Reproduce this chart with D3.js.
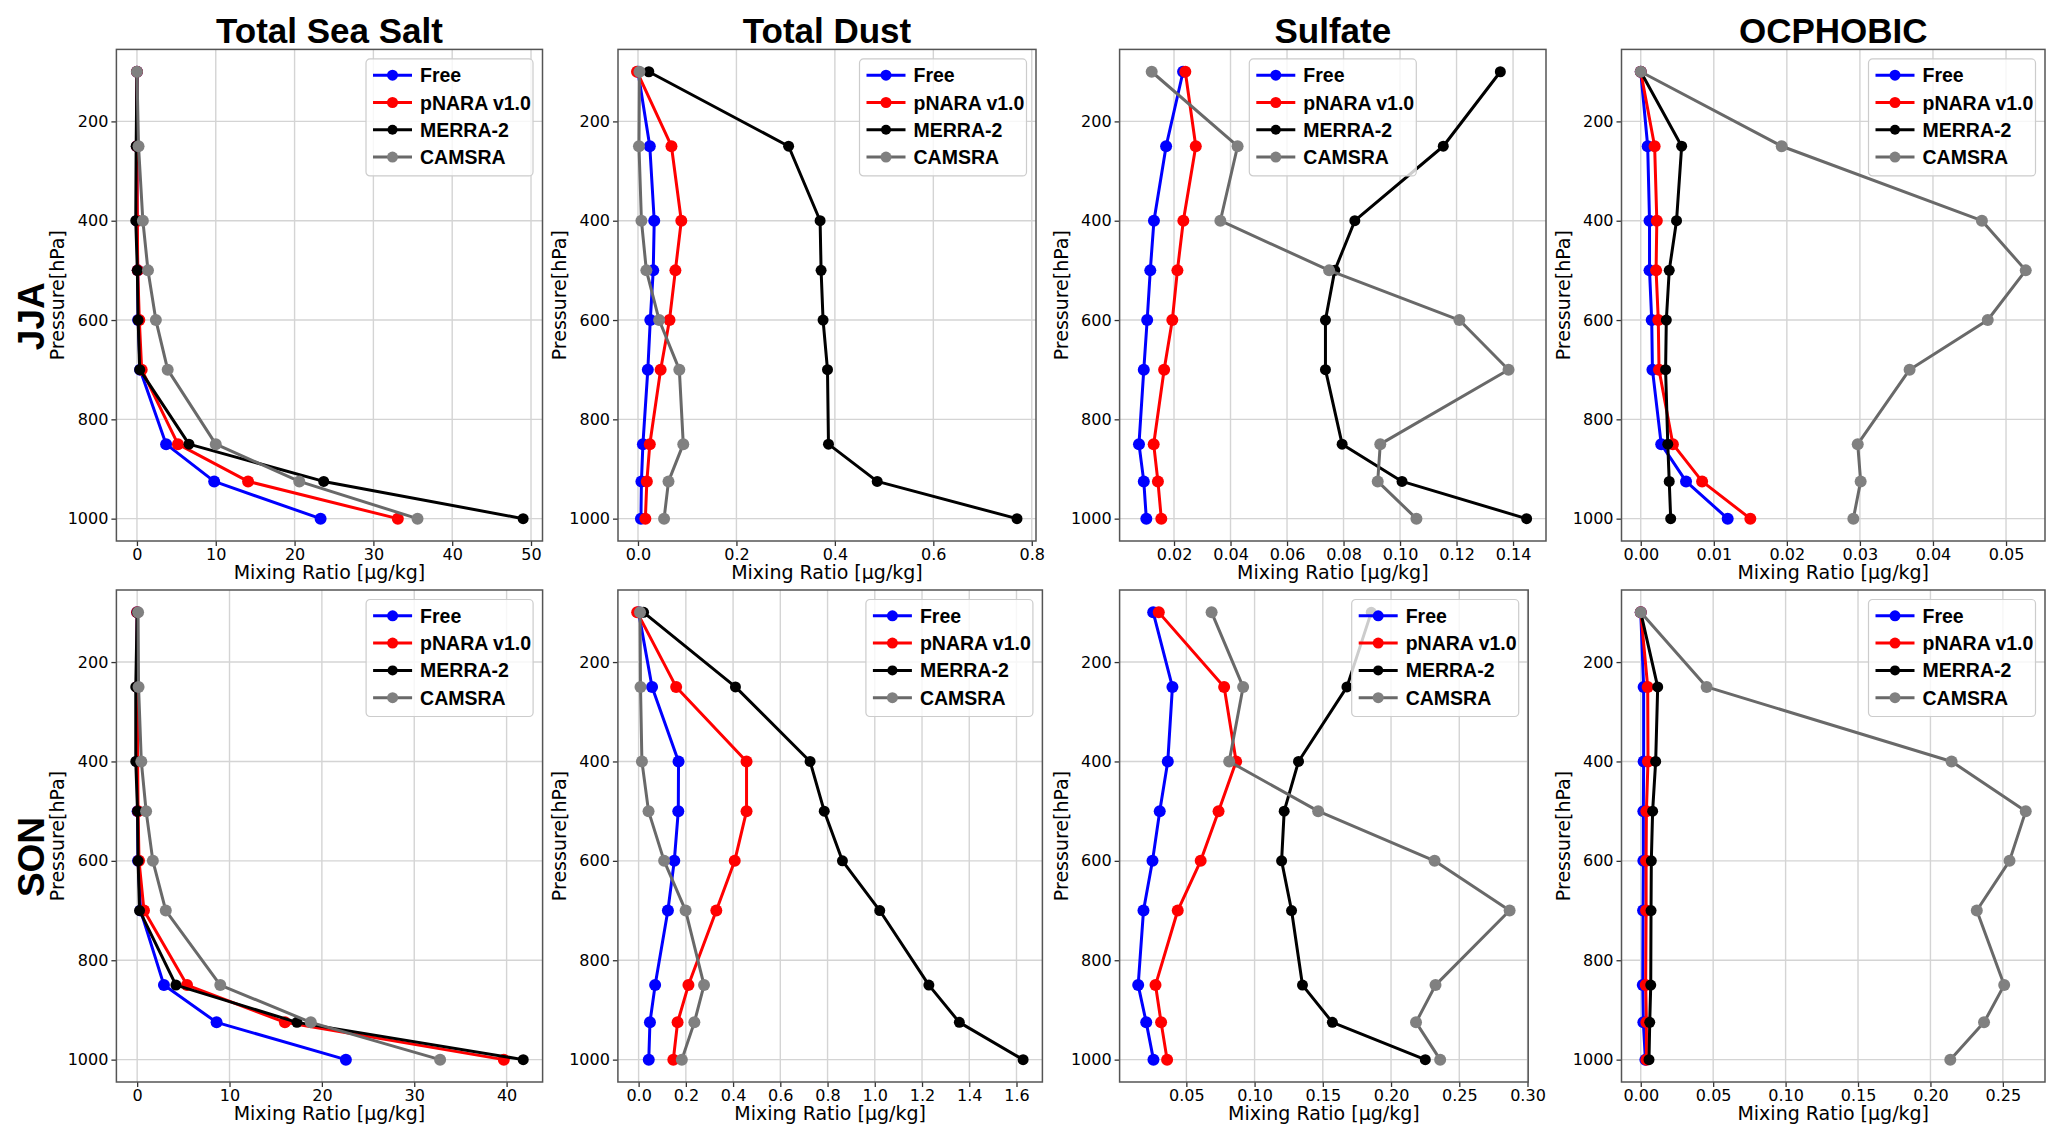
<!DOCTYPE html>
<html>
<head>
<meta charset="utf-8">
<script src="https://cdn.jsdelivr.net/npm/d3@7"></script>
<style>
  body { margin: 0; background: #fff; }
  .tick text { font-family: "DejaVu Sans", sans-serif; fill: #000; }
</style>
</head>
<body>
<div id="graf"></div>
<script>
// Niveles de presion (hPa)
const pressure = [100, 250, 400, 500, 600, 700, 850, 925, 1000]
const seriesNames = ["Free", "pNARA v1.0", "MERRA-2", "CAMSRA"]
const species = ["Total Sea Salt", "Total Dust", "Sulfate", "OCPHOBIC"]
const seasons = ["JJA", "SON"]
const yTicks = [200, 400, 600, 800, 1000]

// JJA  (orden: Free, pNARA v1.0, MERRA-2, CAMSRA)
const seaSaltJJA = [
  [0, 0, 0, 0.1, 0.15, 0.4, 3.7, 9.8, 23.3],
  [0, 0, 0.05, 0.1, 0.3, 0.6, 5.2, 14.1, 33.1],
  [0, -0.1, -0.15, 0.05, 0.15, 0.35, 6.6, 23.7, 49.0],
  [0, 0.2, 0.75, 1.4, 2.4, 3.9, 10.0, 20.6, 35.6],
]
const dustJJA = [
  [0.0, 0.024, 0.033, 0.031, 0.025, 0.02, 0.01, 0.007, 0.006],
  [-0.002, 0.068, 0.088, 0.076, 0.064, 0.046, 0.024, 0.018, 0.015],
  [0.022, 0.306, 0.37, 0.372, 0.376, 0.385, 0.387, 0.486, 0.77],
  [0.003, 0.002, 0.007, 0.017, 0.043, 0.084, 0.092, 0.062, 0.053],
]
const sulfateJJA = [
  [0.0232, 0.0172, 0.0129, 0.0116, 0.0105, 0.0093, 0.0076, 0.0093, 0.0102],
  [0.024, 0.0277, 0.0233, 0.0212, 0.0194, 0.0165, 0.0128, 0.0143, 0.0155],
  [0.1355, 0.1153, 0.084, 0.0769, 0.0736, 0.0736, 0.0795, 0.1007, 0.1448],
  [0.0121, 0.0425, 0.0364, 0.0749, 0.121, 0.1384, 0.093, 0.0921, 0.1058],
]
const ocphobicJJA = [
  [0, 0.00095, 0.0012, 0.0012, 0.0015, 0.0016, 0.0028, 0.0062, 0.0119],
  [0, 0.0019, 0.0022, 0.0021, 0.0024, 0.0025, 0.0044, 0.0084, 0.015],
  [0, 0.0056, 0.0049, 0.0039, 0.0035, 0.0034, 0.0037, 0.0039, 0.0041],
  [0, 0.0193, 0.0467, 0.0527, 0.0475, 0.0368, 0.0297, 0.0301, 0.0291],
]

// SON
const seaSaltSON = [
  [0, 0, 0, 0.05, 0.1, 0.37, 2.9, 8.6, 22.6],
  [0, 0, 0.05, 0.1, 0.2, 0.74, 5.4, 16.0, 39.7],
  [0, -0.15, -0.15, 0.04, 0.1, 0.26, 4.2, 17.3, 41.8],
  [0.1, 0.15, 0.45, 0.97, 1.7, 3.1, 9.0, 18.8, 32.8],
]
const dustSON = [
  [0.0, 0.057, 0.169, 0.168, 0.151, 0.124, 0.07, 0.048, 0.043],
  [-0.006, 0.159, 0.457, 0.457, 0.407, 0.329, 0.211, 0.165, 0.147],
  [0.021, 0.41, 0.726, 0.786, 0.863, 1.021, 1.229, 1.358, 1.628],
  [0.006, 0.008, 0.014, 0.042, 0.108, 0.199, 0.277, 0.236, 0.183],
]
const sulfateSON = [
  [0.0257, 0.0398, 0.0364, 0.0305, 0.0252, 0.0186, 0.0147, 0.0206, 0.0259],
  [0.0298, 0.0777, 0.0865, 0.0736, 0.0605, 0.0437, 0.0274, 0.0315, 0.0359],
  [0.1855, 0.1677, 0.1322, 0.1217, 0.1198, 0.1271, 0.1351, 0.157, 0.2251],
  [0.0685, 0.0916, 0.0814, 0.1466, 0.2319, 0.2869, 0.2326, 0.2183, 0.236],
]
const ocphobicSON = [
  [0, 0.002, 0.002, 0.0018, 0.0018, 0.0016, 0.0014, 0.0018, 0.0032],
  [0, 0.0048, 0.005, 0.0039, 0.0037, 0.0037, 0.0034, 0.0039, 0.0039],
  [0, 0.0117, 0.0103, 0.0082, 0.0073, 0.0071, 0.0069, 0.0062, 0.0057],
  [0, 0.0455, 0.2146, 0.2658, 0.2546, 0.232, 0.2509, 0.237, 0.2137],
]

// Ticks del eje x
const seaSaltJJATicks = [0, 10, 20, 30, 40, 50]
const dustJJATicks = [0, 0.2, 0.4, 0.6, 0.8]
const sulfateJJATicks = [0.02, 0.04, 0.06, 0.08, 0.1, 0.12, 0.14]
const ocphobicJJATicks = [0, 0.01, 0.02, 0.03, 0.04, 0.05]
const seaSaltSONTicks = [0, 10, 20, 30, 40]
const dustSONTicks = [0, 0.2, 0.4, 0.6, 0.8, 1.0, 1.2, 1.4, 1.6]
const sulfateSONTicks = [0.05, 0.1, 0.15, 0.2, 0.25, 0.3]
const ocphobicSONTicks = [0, 0.05, 0.1, 0.15, 0.2, 0.25]

const draw = () => {
  const graf = d3.select("#graf")
  const anchoTotal = 2067
  const altoTotal = 1142

  const lineColors = ["#0000ff", "#ff0000", "#000000", "#696969"]
  const markerColors = ["#0000ff", "#ff0000", "#000000", "#808080"]
  const markerR = [6, 6, 5.5, 6]

  // Paneles: fila, columna, datos, ticks, formato, marco, leyenda
  const rows = [
    { top: 49.4, bottom: 541, cols: [[116.4, 542.5], [618, 1036], [1119.6, 1546], [1621.5, 2045]] },
    { top: 590, bottom: 1082, cols: [[116.4, 542.6], [617.9, 1042.4], [1119.6, 1528.2], [1621.5, 2045]] },
  ]
  const panels = [
    { row: 0, col: 0, data: seaSaltJJA, ticks: seaSaltJJATicks, fmt: "d", legend: "right" },
    { row: 0, col: 1, data: dustJJA, ticks: dustJJATicks, fmt: ".1f", legend: "right" },
    { row: 0, col: 2, data: sulfateJJA, ticks: sulfateJJATicks, fmt: ".2f", legend: "center" },
    { row: 0, col: 3, data: ocphobicJJA, ticks: ocphobicJJATicks, fmt: ".2f", legend: "right" },
    { row: 1, col: 0, data: seaSaltSON, ticks: seaSaltSONTicks, fmt: "d", legend: "right" },
    { row: 1, col: 1, data: dustSON, ticks: dustSONTicks, fmt: ".1f", legend: "right" },
    { row: 1, col: 2, data: sulfateSON, ticks: sulfateSONTicks, fmt: ".2f", legend: "right" },
    { row: 1, col: 3, data: ocphobicSON, ticks: ocphobicSONTicks, fmt: ".2f", legend: "right" },
  ]

  const svg = graf
    .append("svg")
    .attr("width", anchoTotal)
    .attr("height", altoTotal)
    .style("display", "block")
    .style("background", "#fff")

  const pad = (lo, hi) => {
    const m = (hi - lo) * 0.05
    return [lo - m, hi + m]
  }

  panels.forEach((p) => {
    const r = rows[p.row]
    const [x0, x1] = r.cols[p.col]
    const ancho = x1 - x0
    const alto = r.bottom - r.top

    const all = p.data.flat()
    const x = d3
      .scaleLinear()
      .domain(pad(d3.min(all), d3.max(all)))
      .range([0, ancho])
    const y = d3
      .scaleLinear()
      .domain(pad(d3.min(pressure), d3.max(pressure)))
      .range([0, alto])

    const chart = svg.append("g").attr("transform", `translate(${x0}, ${r.top})`)

    // Rejilla
    chart
      .append("g")
      .selectAll("line.vx")
      .data(p.ticks)
      .join("line")
      .attr("x1", (d) => x(d))
      .attr("x2", (d) => x(d))
      .attr("y1", 0)
      .attr("y2", alto)
      .attr("stroke", "#d4d4d4")
      .attr("stroke-width", 1.4)
    chart
      .append("g")
      .selectAll("line.hy")
      .data(yTicks)
      .join("line")
      .attr("x1", 0)
      .attr("x2", ancho)
      .attr("y1", (d) => y(d))
      .attr("y2", (d) => y(d))
      .attr("stroke", "#d4d4d4")
      .attr("stroke-width", 1.4)

    // Ejes
    const xAxis = d3
      .axisBottom(x)
      .tickValues(p.ticks)
      .tickFormat(d3.format(p.fmt))
      .tickSize(5)
      .tickSizeOuter(0)
      .tickPadding(3)
    const yAxis = d3
      .axisLeft(y)
      .tickValues(yTicks)
      .tickFormat(d3.format("d"))
      .tickSize(5)
      .tickSizeOuter(0)
      .tickPadding(3)

    const xg = chart
      .append("g")
      .attr("transform", `translate(0, ${alto})`)
      .call(xAxis)
    const yg = chart.append("g").call(yAxis)
    ;[xg, yg].forEach((g) => {
      g.select(".domain").remove()
      g.selectAll(".tick line").attr("stroke", "#333").attr("stroke-width", 1.3)
      g.selectAll(".tick text").style("font-size", "16px")
    })

    // Marco
    chart
      .append("rect")
      .attr("width", ancho)
      .attr("height", alto)
      .attr("fill", "none")
      .attr("stroke", "#555")
      .attr("stroke-width", 1.5)

    // Etiquetas
    chart
      .append("text")
      .attr("x", ancho / 2)
      .attr("y", alto + 38)
      .attr("text-anchor", "middle")
      .style("font-family", "DejaVu Sans, sans-serif")
      .style("font-size", "19px")
      .text("Mixing Ratio [μg/kg]")
    chart
      .append("text")
      .attr("transform", `translate(-52, ${alto / 2}) rotate(-90)`)
      .attr("text-anchor", "middle")
      .style("font-family", "DejaVu Sans, sans-serif")
      .style("font-size", "19px")
      .text("Pressure[hPa]")

    if (p.row === 0) {
      chart
        .append("text")
        .attr("x", ancho / 2)
        .attr("y", 43 - r.top)
        .attr("text-anchor", "middle")
        .style("font-family", "Liberation Sans, Arial, sans-serif")
        .style("font-weight", "bold")
        .style("font-size", "35px")
        .text(species[p.col])
    }
    if (p.col === 0) {
      chart
        .append("text")
        .attr("transform", `translate(${44 - x0}, ${alto / 2 + 21}) rotate(-90)`)
        .attr("text-anchor", "middle")
        .style("font-family", "Liberation Sans, Arial, sans-serif")
        .style("font-weight", "bold")
        .style("font-size", "37px")
        .text(seasons[p.row])
    }

    // Perfiles
    const line = d3
      .line()
      .x((d) => x(d[0]))
      .y((d) => y(d[1]))

    p.data.forEach((vals, i) => {
      const pts = vals.map((v, j) => [v, pressure[j]])
      const g = chart.append("g")
      g.append("path")
        .datum(pts)
        .attr("d", line)
        .attr("fill", "none")
        .attr("stroke", lineColors[i])
        .attr("stroke-width", 3)
        .attr("stroke-linejoin", "round")
      g.selectAll("circle")
        .data(pts)
        .join("circle")
        .attr("cx", (d) => x(d[0]))
        .attr("cy", (d) => y(d[1]))
        .attr("r", markerR[i])
        .attr("fill", markerColors[i])
    })

    // Leyenda
    const lw = 167
    const lh = 117
    const lx = p.legend === "center" ? (ancho - lw) / 2 : ancho - lw - 9.5
    const legend = chart.append("g").attr("transform", `translate(${lx}, 9.5)`)
    legend
      .append("rect")
      .attr("width", lw)
      .attr("height", lh)
      .attr("rx", 4)
      .attr("fill", "#fff")
      .attr("fill-opacity", 0.8)
      .attr("stroke", "#cccccc")
      .attr("stroke-width", 1.2)
    const items = legend
      .selectAll("g.item")
      .data(seriesNames)
      .join("g")
      .attr("transform", (d, i) => `translate(0, ${16.3 + i * 27.3})`)
    items
      .append("line")
      .attr("x1", 7)
      .attr("x2", 46)
      .attr("stroke", (d, i) => lineColors[i])
      .attr("stroke-width", 3)
    items
      .append("circle")
      .attr("cx", 26.5)
      .attr("r", (d, i) => markerR[i] - 0.5)
      .attr("fill", (d, i) => markerColors[i])
    items
      .append("text")
      .attr("x", 54)
      .attr("y", 7)
      .style("font-family", "Liberation Sans, Arial, sans-serif")
      .style("font-weight", "bold")
      .style("font-size", "19.5px")
      .text((d) => d)
  })
}

draw()
</script>
</body>
</html>
